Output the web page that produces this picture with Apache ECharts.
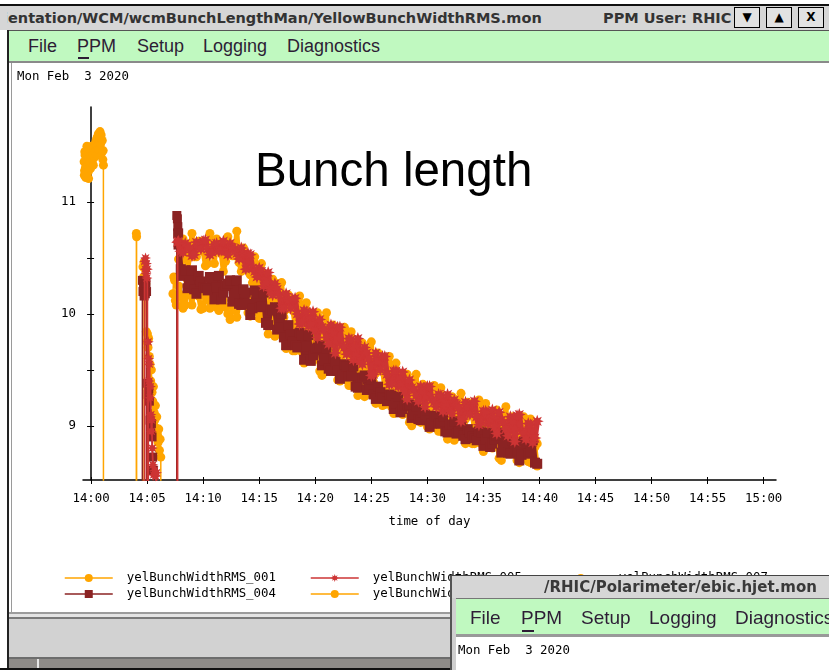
<!DOCTYPE html>
<html><head><meta charset="utf-8">
<script src="https://cdn.jsdelivr.net/npm/echarts@6/dist/echarts.min.js"></script>
<style>
html,body{margin:0;padding:0;width:829px;height:670px;overflow:hidden;background:#fff;}
#chart{position:absolute;left:0;top:0;width:829px;height:670px;z-index:1;}
.a{position:absolute;z-index:5;box-sizing:border-box;}
.menu{font-family:"Liberation Sans",Arial,sans-serif;color:#2d1d35;white-space:pre;line-height:1;}
.mono{font-family:"DejaVu Sans Mono",monospace;font-size:12.4px;color:#000;white-space:pre;line-height:1;}
.ttl{font-family:"DejaVu Sans",sans-serif;font-weight:bold;color:#333;white-space:pre;line-height:1;}
.btn{background:#e2e2e2;border:1px solid #000;font-family:"DejaVu Sans",sans-serif;font-size:12px;text-align:center;line-height:18px;color:#000;}
</style></head><body>
<div id="chart"></div>

<!-- main window chrome -->
<div class="a" style="left:0;top:0;width:829px;height:4px;background:#fff;"></div>
<div class="a" style="left:0;top:4px;width:829px;height:2px;background:#111;"></div>
<div class="a" style="left:0;top:6px;width:829px;height:24px;background:#d6d6d6;"></div>
<div class="a" style="left:7px;top:6px;width:590px;height:24px;overflow:hidden;">
  <div class="ttl" style="position:absolute;left:-4px;top:5px;font-size:14.5px;">ientation/WCM/wcmBunchLengthMan/YellowBunchWidthRMS.mon</div>
</div>
<div class="a ttl" style="left:603px;top:11px;font-size:14.5px;width:131px;overflow:hidden;">PPM User: RHIC</div>
<div class="a btn" style="left:734px;top:7px;width:26px;height:21px;">&#9660;</div>
<div class="a btn" style="left:766px;top:7px;width:26px;height:21px;">&#9650;</div>
<div class="a btn" style="left:798px;top:7px;width:26px;height:21px;font-weight:bold;">X</div>
<div class="a" style="left:7px;top:30px;width:822px;height:1px;background:#555;"></div>
<div class="a" style="left:7px;top:31px;width:822px;height:30px;background:#c0f9c0;"></div>
<div class="a" style="left:7px;top:61px;width:822px;height:2px;background:#8a8a8a;"></div>
<div class="a menu" style="left:28px;top:37px;font-size:18px;">File</div>
<div class="a menu" style="left:77px;top:37px;font-size:18px;">PPM</div>
<div class="a" style="left:78px;top:57px;width:11px;height:2px;background:#2d1d35;"></div>
<div class="a menu" style="left:137px;top:37px;font-size:18px;">Setup</div>
<div class="a menu" style="left:203px;top:37px;font-size:18px;">Logging</div>
<div class="a menu" style="left:287px;top:37px;font-size:18px;">Diagnostics</div>
<div class="a" style="left:7px;top:30px;width:2px;height:640px;background:#222;"></div>
<div class="a" style="left:11px;top:63px;width:1px;height:550px;background:#9a9a9a;"></div>
<div class="a mono" style="left:17px;top:70px;">Mon Feb  3 2020</div>
<!-- bottom status area -->
<div class="a" style="left:9px;top:612px;width:820px;height:2px;background:#9c9c9c;"></div>
<div class="a" style="left:9px;top:614px;width:820px;height:3px;background:#e4e4e4;"></div>
<div class="a" style="left:9px;top:617px;width:820px;height:2px;background:#7a7a7a;"></div>
<div class="a" style="left:9px;top:619px;width:820px;height:38px;background:#d2d2d2;"></div>
<div class="a" style="left:9px;top:657px;width:820px;height:2px;background:#6d6d6d;"></div>
<div class="a" style="left:9px;top:659px;width:820px;height:9px;background:#8e8b88;"></div>
<div class="a" style="left:37px;top:659px;width:2px;height:9px;background:#e6e6e6;"></div>
<div class="a" style="left:0;top:668px;width:829px;height:2px;background:#111;"></div>

<!-- second (overlapping) window -->
<div class="a" style="left:450px;top:575px;width:379px;height:95px;background:#fff;z-index:20;">
  <div style="position:absolute;left:0;top:0;width:2px;height:95px;background:#555;"></div>
  <div style="position:absolute;left:2px;top:0;width:4px;height:95px;background:#cfcfcf;"></div>
  <div style="position:absolute;left:0;top:0;width:379px;height:1px;background:#444;"></div>
  <div style="position:absolute;left:2px;top:1px;width:377px;height:22px;background:#d6d6d6;"></div>
  <div class="ttl" style="position:absolute;left:94px;top:5px;font-size:15px;color:#3a3a3a;">/RHIC/Polarimeter/ebic.hjet.mon</div>
  <div style="position:absolute;left:6px;top:23px;width:373px;height:1px;background:#777;"></div>
  <div style="position:absolute;left:6px;top:24px;width:373px;height:35px;background:#c0f9c0;"></div>
  <div style="position:absolute;left:6px;top:59px;width:373px;height:3px;background:#999;"></div>
  <div class="menu" style="position:absolute;left:20px;top:33px;font-size:19px;">File</div>
  <div class="menu" style="position:absolute;left:71px;top:33px;font-size:19px;">PPM</div>
  <div style="position:absolute;left:72px;top:55px;width:12px;height:2px;background:#2d1d35;"></div>
  <div class="menu" style="position:absolute;left:131px;top:33px;font-size:19px;">Setup</div>
  <div class="menu" style="position:absolute;left:199px;top:33px;font-size:19px;">Logging</div>
  <div class="menu" style="position:absolute;left:285px;top:33px;font-size:19px;">Diagnostics</div>
  <div class="mono" style="position:absolute;left:8px;top:69px;">Mon Feb  3 2020</div>
</div>

<script>
// ---------- axis ticks ----------
const xTickMinutes = [0,5,10,15,20,25,30,35,40,45,50,55,60];
const xTickLabels = ['14:00','14:05','14:10','14:15','14:20','14:25','14:30','14:35','14:40','14:45','14:50','14:55','15:00'];
const yTickValues = [9,9.5,10,10.5,11,11.5];
const yLabelValues = [9,10,11];

// ---------- data (time in minutes after 14:00, bunch width RMS) ----------
// store part: two interleaved sets of logged samples (regular interval)
const MAIN_T0 = 7.8, MID_T0 = 8.0, SAMPLE_DT = 0.4, MAIN_N = 81, MID_N = 80;

// injection / early part (sparse, with drop-outs to 0)
const s001_pre = [[-0.62,11.36],[-0.6,11.24],[-0.58,11.28],[-0.56,11.45],[-0.54,11.42],[-0.5,11.31],[-0.47,11.22],[-0.45,11.38],[-0.4,11.25],[-0.37,11.5],[-0.35,11.44],[-0.3,11.33],[-0.25,11.27],[-0.22,11.21],[-0.2,11.4],[-0.15,11.35],[-0.1,11.47],[-0.05,11.3],[0,11.39],[0.05,11.5],[0.1,11.36],[0.15,11.42],[0.2,11.33],[0.25,11.48],[0.3,11.4],[0.35,11.52],[0.4,11.45],[0.45,11.55],[0.5,11.42],[0.55,11.58],[0.6,11.5],[0.65,11.61],[0.7,11.47],[0.75,11.56],[0.8,11.63],[0.85,11.52],[0.9,11.6],[0.95,11.44],[1.0,11.55],[1.05,11.38],[1.08,11.46],[1.1,11.33],[1.12,0],
  [4.02,0],[4.04,10.72],[4.06,10.69],[4.08,0],
  [4.6,0],[4.63,10.42],[4.68,10.33],[4.72,10.46],[4.77,10.3],[4.82,10.4],[4.88,10.27],[4.93,9.84],[4.98,9.75],[5.03,9.82],[5.08,9.7],[5.14,9.78],[5.2,9.62],[5.26,9.55],[5.32,9.4],[5.38,9.5],[5.44,9.3],[5.5,9.22],[5.56,9.35],[5.62,9.12],[5.68,9.05],[5.74,9.18],[5.8,8.98],[5.86,9.08],[5.92,8.92],[5.98,8.85],[6.04,8.97],[6.1,8.78],[6.16,8.88],[6.22,8.72],[6.28,0]];
const s004_pre = [[4.55,0],[4.58,10.3],[4.63,10.2],[4.68,10.27],[4.73,10.16],[4.78,10.24],[4.84,10.18],[4.9,10.28],[4.95,10.2],[5.0,0],[5.05,9.38],[5.1,9.28],[5.15,9.33],[5.2,9.22],[5.26,9.05],[5.32,8.97],[5.38,9.02],[5.44,8.9],[5.5,8.72],[5.56,8.6],[5.6,0],
  [7.62,0],[7.65,10.88],[7.7,10.85],[7.74,10.78],[7.77,10.72]];
const s005_pre = [[4.75,0],[4.78,10.47],[4.82,10.4],[4.86,10.5],[4.9,10.36],[4.94,10.45],[4.98,10.32],[5.02,10.4],[5.06,0],[5.1,9.75],[5.14,9.6],[5.18,9.4],[5.22,9.55],[5.26,9.25],[5.3,9.35],[5.34,9.1],[5.38,8.95],[5.42,9.05],[5.46,8.8],[5.52,8.65],[5.58,8.56],[5.66,8.6],[5.76,8.55],[5.84,8.58],[5.9,0],
  [7.68,0],[7.72,10.64]];
const s006_pre = [[7.3,10.18],[7.38,10.33],[7.45,10.3],[7.52,10.12],[7.6,10.08]];

const s001_main = [10.49,10.67,10.38,10.72,10.51,10.65,10.43,10.72,10.45,10.61,10.38,10.69,10.52,10.74,
  10.38,10.53,10.35,10.51,10.20,10.32,10.19,10.31,10.00,10.28,10.04,10.13,9.90,10.16,9.84,9.99,9.71,10.01,9.81,10.01,
  9.63,9.85,9.64,9.88,9.51,9.69,9.56,9.74,9.38,9.75,9.47,9.61,9.35,9.62,9.31,9.45,9.17,9.46,9.27,9.46,
  9.13,9.32,9.15,9.36,9.05,9.20,9.10,9.26,8.97,9.29,9.06,9.19,8.97,9.23,8.96,9.10,8.86,9.14,8.98,9.17,8.85,9.04,8.87,9.08,8.78,8.94,8.84];
const s001_mid = [10.47,10.63,10.52,10.51,10.65,10.56,10.45,10.60,10.67,10.54,10.47,10.63,10.52,10.46,
  10.59,10.45,10.28,10.41,10.45,10.24,10.13,10.28,10.10,10.02,10.17,10.03,9.86,10.03,10.10,9.88,9.78,9.96,9.78,9.71,
  9.90,9.76,9.57,9.77,9.84,9.61,9.50,9.70,9.51,9.45,9.65,9.49,9.31,9.49,9.56,9.34,9.23,9.41,9.25,9.19,
  9.37,9.25,9.09,9.26,9.34,9.14,9.06,9.24,9.08,9.03,9.21,9.10,8.94,9.12,9.20,9.01,8.93,9.10,8.95,8.91,9.08,8.97,8.82,8.99,9.06,8.88];
const s004_main = [10.62,10.34,10.23,10.39,10.18,10.29,10.23,10.33,10.13,10.34,10.19,10.27,10.11,10.30,10.08,10.19,9.99,10.21,10.06,10.19,
  9.90,10.03,9.86,10.00,9.72,9.82,9.72,9.83,9.59,9.81,9.63,9.70,9.54,9.69,9.49,9.57,9.42,9.55,9.44,9.53,
  9.34,9.43,9.32,9.41,9.24,9.30,9.24,9.28,9.15,9.26,9.15,9.18,9.07,9.17,9.05,9.10,8.99,9.09,9.02,9.08,
  8.94,9.01,8.93,9.02,8.88,8.94,8.89,8.95,8.82,8.94,8.84,8.91,8.76,8.93,8.75,8.84,8.69,8.86,8.75,8.87,8.66];
const s004_mid = [10.40,10.39,10.27,10.22,10.34,10.24,10.21,10.33,10.24,10.13,10.25,10.30,10.16,10.09,10.22,10.09,10.05,10.18,10.07,9.92,
  10.04,10.06,9.88,9.79,9.90,9.75,9.70,9.81,9.71,9.58,9.69,9.72,9.58,9.51,9.60,9.49,9.45,9.53,9.45,9.35,
  9.43,9.45,9.34,9.28,9.35,9.25,9.22,9.27,9.20,9.12,9.18,9.19,9.10,9.06,9.12,9.05,9.02,9.08,9.02,8.95,
  9.01,9.04,8.95,8.91,8.97,8.90,8.87,8.94,8.88,8.81,8.88,8.94,8.81,8.76,8.87,8.77,8.74,8.84,8.77,8.67];
const s005_main = [10.65,10.55,10.61,10.52,10.64,10.58,10.66,10.53,10.62,10.56,10.65,10.53,10.59,10.54,10.59,10.40,10.53,10.38,10.41,10.25,
  10.37,10.17,10.22,10.05,10.18,10.05,10.14,9.91,10.03,9.89,10.02,9.79,9.88,9.79,9.90,9.65,9.88,9.70,9.78,9.59,
  9.78,9.55,9.65,9.45,9.65,9.50,9.62,9.37,9.49,9.35,9.48,9.24,9.34,9.27,9.35,9.17,9.35,9.21,9.28,9.13,
  9.28,9.11,9.19,9.04,9.21,9.10,9.22,9.01,9.13,9.02,9.14,8.93,9.05,8.97,9.08,8.86,9.10,8.93,9.02,8.85,9.04];
const s005_mid = [10.56,10.63,10.59,10.53,10.61,10.65,10.58,10.55,10.63,10.57,10.56,10.63,10.58,10.49,10.54,10.54,10.41,10.33,10.38,10.27,
  10.21,10.27,10.17,10.05,10.12,10.13,10.00,9.92,10.02,9.90,9.85,9.95,9.86,9.73,9.84,9.88,9.72,9.64,9.77,9.63,
  9.58,9.70,9.60,9.46,9.58,9.62,9.46,9.38,9.49,9.36,9.31,9.41,9.32,9.22,9.31,9.35,9.23,9.17,9.27,9.17,
  9.13,9.23,9.16,9.06,9.16,9.20,9.08,9.03,9.13,9.03,8.99,9.12,9.03,8.91,9.04,9.09,8.95,8.88,9.01,8.89];
const s006_main = [10.25,10.05,10.30,10.08,10.22,10.04,10.16,10.05,10.14,10.03,10.12,10.00,10.08,9.97,
  10.08,10.19,9.98,10.22,9.96,10.07,9.82,10.05,9.87,10.02,9.69,9.84,9.67,9.84,9.56,9.68,9.58,9.69,9.45,9.67,
  9.49,9.57,9.40,9.55,9.36,9.44,9.27,9.44,9.31,9.42,9.20,9.31,9.19,9.28,9.11,9.17,9.10,9.17,9.00,9.15,
  9.03,9.09,8.97,9.09,8.95,9.01,8.88,9.02,8.92,9.02,8.84,8.94,8.84,8.95,8.77,8.86,8.80,8.91,8.69,8.93,8.75,8.85,8.67,8.88,8.68,8.77,8.64];
const s006_mid = [10.17,10.08,10.20,10.26,10.16,10.05,10.16,10.07,10.06,10.16,10.06,9.95,10.06,10.11,
  10.09,10.01,10.17,10.02,9.96,10.10,9.96,9.80,9.93,9.97,9.77,9.67,9.82,9.66,9.61,9.74,9.63,9.49,9.61,9.65,
  9.49,9.41,9.52,9.41,9.36,9.46,9.37,9.26,9.36,9.39,9.25,9.18,9.27,9.17,9.13,9.20,9.13,9.03,9.11,9.14,
  9.04,8.99,9.07,8.98,8.95,9.03,8.96,8.87,8.96,9.00,8.89,8.84,8.93,8.84,8.81,8.90,8.83,8.71,8.85,8.91,8.76,8.69,8.83,8.71,8.67,8.81];

const seriesNames = ['yelBunchWidthRMS_001','yelBunchWidthRMS_004','yelBunchWidthRMS_005','yelBunchWidthRMS_006','yelBunchWidthRMS_007'];

// ---------- build ----------
function interleave(mainVals, midVals) {
  const out = [];
  for (let k = 0; k < MAIN_N; k++) {
    out.push([+(MAIN_T0 + k * SAMPLE_DT).toFixed(2), mainVals[k]]);
    if (k < MID_N) out.push([+(MID_T0 + k * SAMPLE_DT).toFixed(2), midVals[k]]);
  }
  return out;
}

const ORANGE = '#ffa500', RED = '#cd3434', DARK = '#8b2323';
const STAR = 'path://M0,-10L1.91,-4.62L7.07,-7.07L4.62,-1.91L10,0L4.62,1.91L7.07,7.07L1.91,4.62L0,10L-1.91,4.62L-7.07,7.07L-4.62,1.91L-10,0L-4.62,-1.91L-7.07,-7.07L-1.91,-4.62Z';

function mk(name, data, color, symbol, size, lw, z) {
  return { name, type: 'line', data, symbol, symbolSize: size, showSymbol: true, showAllSymbol: true,
    clip: true, animation: false, silent: true, z,
    lineStyle: { color, width: lw, join: 'bevel' }, itemStyle: { color }, emphasis: { disabled: true } };
}

const chart = echarts.init(document.getElementById('chart'));
const monoFont = { fontFamily: 'DejaVu Sans Mono', fontSize: 12.4, color: '#000' };
const xFmt = v => { const i = xTickMinutes.indexOf(Math.round(v)); return i >= 0 ? xTickLabels[i] : ''; };
const axisBase = { type: 'value', splitLine: { show: false } };
const legendBase = { orient: 'vertical', itemWidth: 48, itemHeight: 10, itemGap: 4, padding: 0,
  selectedMode: false, lineStyle: { width: 1.5 }, textStyle: Object.assign({ padding: [0, 0, 0, 9] }, monoFont) };

chart.setOption({
  animation: false,
  backgroundColor: 'transparent',
  title: { text: 'Bunch length', left: 250, top: 144,
    textStyle: { fontFamily: 'Liberation Sans', fontSize: 47.5, fontWeight: 'normal', color: '#000' } },
  grid: { left: 83, right: 53, top: 107, bottom: 190, containLabel: false },
  xAxis: [
    Object.assign({}, axisBase, { min: -0.72, max: 61.1, position: 'bottom',
      axisLine: { lineStyle: { color: '#000', width: 1.5 } },
      axisTick: { show: true, customValues: xTickMinutes, length: 4, lineStyle: { color: '#000', width: 1 } },
      axisLabel: Object.assign({ customValues: xTickMinutes, formatter: xFmt, margin: 13 }, monoFont),
      name: 'time of day', nameLocation: 'middle', nameGap: 36, nameTextStyle: monoFont }),
    Object.assign({}, axisBase, { min: -0.72, max: 61.1, position: 'bottom',
      axisLine: { show: false },
      axisTick: { show: true, inside: true, customValues: xTickMinutes, length: 3, lineStyle: { color: '#000', width: 1 } },
      axisLabel: { show: false } })
  ],
  yAxis: [
    Object.assign({}, axisBase, { min: 8.515, max: 11.85, position: 'left',
      axisLine: { show: true, lineStyle: { color: '#000', width: 1.5 } },
      axisTick: { show: true, customValues: yTickValues, length: 4, lineStyle: { color: '#000', width: 1 } },
      axisLabel: Object.assign({ customValues: yLabelValues, margin: 7, formatter: v => String(v) }, monoFont) }),
    Object.assign({}, axisBase, { min: 8.515, max: 11.85, position: 'left',
      axisLine: { show: false },
      axisTick: { show: true, inside: true, customValues: yTickValues, length: 3, lineStyle: { color: '#000', width: 1 } },
      axisLabel: { show: false } })
  ],
  legend: [
    Object.assign({ data: [seriesNames[0], seriesNames[1]], left: 64, top: 572 }, legendBase),
    Object.assign({ data: [seriesNames[2], seriesNames[3]], left: 310, top: 572 }, legendBase),
    Object.assign({ data: [seriesNames[4]], left: 556, top: 572 }, legendBase)
  ],
  series: [
    // sparse early segments (thin lines)
    mk(seriesNames[0], s001_pre, ORANGE, 'circle', 9, 1.5, 2),
    mk(seriesNames[1], s004_pre, DARK, 'rect', 9, 1.5, 4),
    mk(seriesNames[2], s005_pre, RED, STAR, 11, 1.8, 5),
    mk(seriesNames[3], s006_pre, ORANGE, 'circle', 9, 1.5, 3),
    // dense store segments
    mk(seriesNames[0], interleave(s001_main, s001_mid), ORANGE, 'circle', 9, 5, 2),
    mk(seriesNames[3], interleave(s006_main, s006_mid), ORANGE, 'circle', 9, 5, 3),
    mk(seriesNames[1], [[7.77,10.72]].concat(interleave(s004_main, s004_mid)), DARK, 'rect', 10, 5.5, 4),
    mk(seriesNames[2], [[7.72,10.64]].concat(interleave(s005_main, s005_mid)), RED, STAR, 13, 5.5, 5),
    mk(seriesNames[4], [], ORANGE, 'circle', 9, 1.5, 2)
  ]
});
</script>
</body></html>
